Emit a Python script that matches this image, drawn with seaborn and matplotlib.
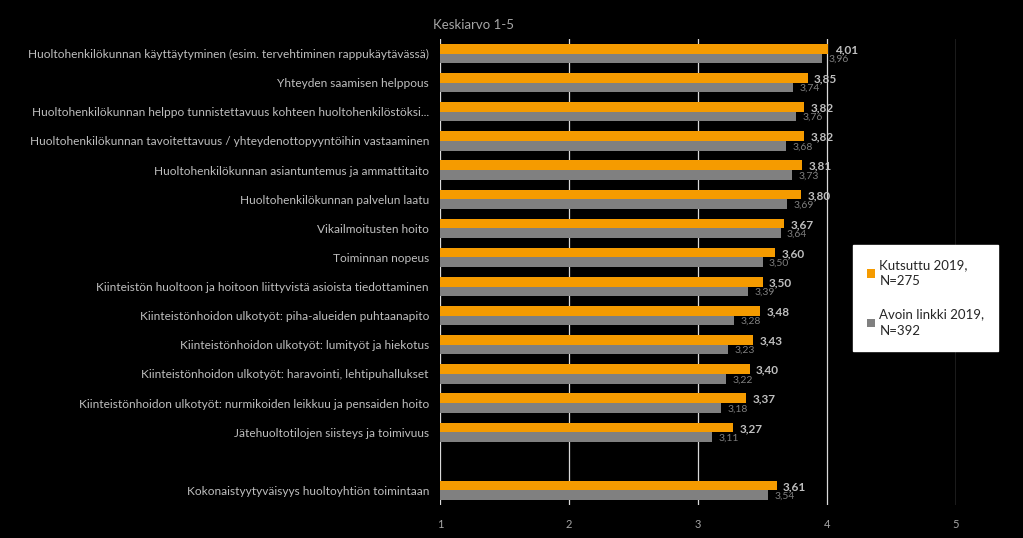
import pandas as pd
import numpy as np
import seaborn as sns
import matplotlib.pyplot as plt

categories = [
    'Huoltohenkilökunnan käyttäytyminen (esim. tervehtiminen rappukäytävässä)',
    'Yhteyden saamisen helppous',
    'Huoltohenkilökunnan helppo tunnistettavuus kohteen huoltohenkilöstöksi...',
    'Huoltohenkilökunnan tavoitettavuus / yhteydenottopyyntöihin vastaaminen',
    'Huoltohenkilökunnan asiantuntemus ja ammattitaito',
    'Huoltohenkilökunnan palvelun laatu',
    'Vikailmoitusten hoito',
    'Toiminnan nopeus',
    'Kiinteistön huoltoon ja hoitoon liittyvistä asioista tiedottaminen',
    'Kiinteistönhoidon ulkotyöt: piha-alueiden puhtaanapito',
    'Kiinteistönhoidon ulkotyöt: lumityöt ja hiekotus',
    'Kiinteistönhoidon ulkotyöt: haravointi, lehtipuhallukset',
    'Kiinteistönhoidon ulkotyöt: nurmikoiden leikkuu ja pensaiden hoito',
    'Jätehuoltotilojen siisteys ja toimivuus',
    ' ',
    'Kokonaistyytyväisyys huoltoyhtiön toimintaan',
]
kutsuttu = [4.01, 3.85, 3.82, 3.82, 3.81, 3.80, 3.67, 3.60, 3.50, 3.48, 3.43, 3.40, 3.37, 3.27, np.nan, 3.61]
avoin = [3.96, 3.74, 3.76, 3.68, 3.73, 3.69, 3.64, 3.50, 3.39, 3.28, 3.23, 3.22, 3.18, 3.11, np.nan, 3.54]
series_names = ['Kutsuttu 2019,\nN=275', 'Avoin linkki 2019,\nN=392']
colors = ['#F59B00', '#808080']

df = pd.DataFrame({
    'kategoria': categories * 2,
    'sarja': [series_names[0]] * len(categories) + [series_names[1]] * len(categories),
    'arvo': kutsuttu + avoin,
})

plt.rcParams['font.family'] = ['Lato', 'DejaVu Sans']
fig = plt.figure(figsize=(10.23, 5.38), dpi=100, facecolor='black')
ax = fig.add_axes([440 / 1023, 1 - 505 / 538, 516 / 1023, 466 / 538])
ax.set_facecolor('black')

sns.barplot(data=df, y='kategoria', x='arvo', hue='sarja', order=categories,
            hue_order=series_names, palette=colors, saturation=1, width=0.66,
            orient='h', errorbar=None, ax=ax, zorder=3)

ax.set_xlim(1, 5)
ax.set_ylim(15.5, -0.5)
ax.set_xticks([1, 2, 3, 4, 5])
ax.set_xticklabels(['1', '2', '3', '4', '5'], color='#A6A6A6', fontsize=8)
ax.tick_params(axis='x', length=0, pad=10)
ax.tick_params(axis='y', length=0, pad=8, labelsize=8.6, labelcolor='#BFBFBF')
for x in [1, 2, 3, 4, 5]:
    ax.axvline(x, color='#D9D9D9', lw=0.9, zorder=1)
for s in ax.spines.values():
    s.set_visible(False)
ax.set_xlabel('')
ax.set_ylabel('')

# data labels
for i, (a, b) in enumerate(zip(kutsuttu, avoin)):
    if np.isnan(a):
        continue
    ax.text(a + 0.05, i - 0.13, f'{a:.2f}'.replace('.', ','), color='#BFBFBF',
            fontsize=8.5, fontweight='bold', va='center', ha='left', zorder=4)
    ax.text(b + 0.05, i + 0.2, f'{b:.2f}'.replace('.', ','), color='#7F7F7F',
            fontsize=7.5, va='center', ha='left', zorder=4)

fig.text(433 / 1023, 1 - 25 / 538, 'Keskiarvo 1-5', color='#A6A6A6', fontsize=9.5, va='center')

leg = ax.legend(loc='upper left', bbox_to_anchor=(853 / 1023, 1 - 245 / 538),
                bbox_transform=fig.transFigure, frameon=True, fancybox=False,
                facecolor='white', edgecolor='white', framealpha=1, fontsize=9.5,
                handlelength=0.6, handleheight=0.6, handletextpad=0.35,
                labelspacing=1.6, borderpad=1.05, borderaxespad=0)
for t in leg.get_texts():
    t.set_color('#262626')
    t.set_linespacing(1.45)

fig.savefig('out.png', dpi=100, facecolor='black')
